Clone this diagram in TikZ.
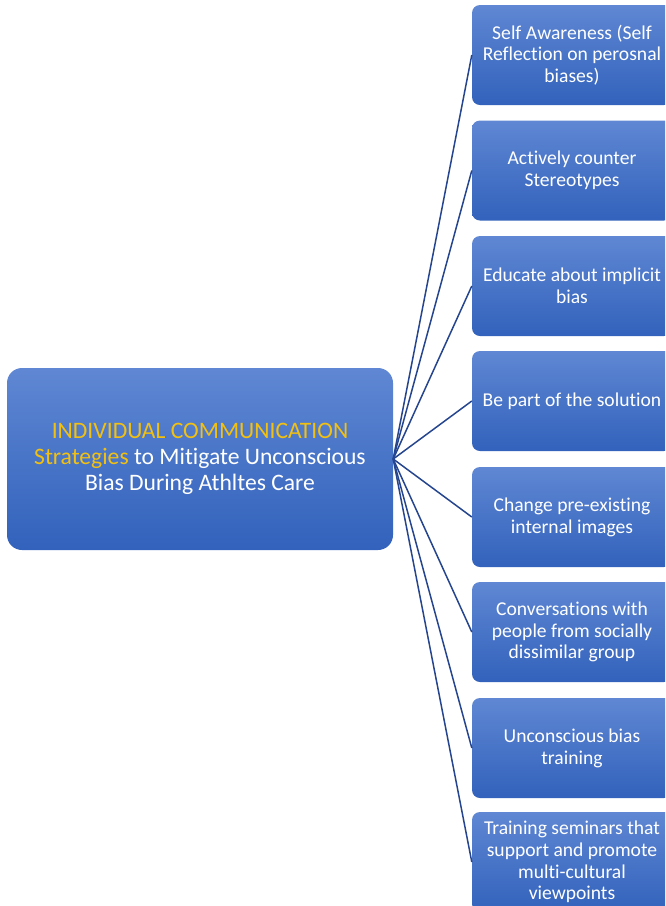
\documentclass[tikz,border=0pt]{standalone}
\usepackage{fontspec}
\setmainfont{Carlito}[Ligatures=NoCommon]
\definecolor{boxtop}{HTML}{5F87D3}
\definecolor{boxbot}{HTML}{3262BC}
\definecolor{linkblue}{HTML}{26458F}
\definecolor{gold}{HTML}{F2C010}

\begin{document}
\begin{tikzpicture}
	[x=1pt, y=-1pt,
	root/.style = {rounded corners=15pt, top color=boxtop, bottom color=boxbot, minimum width=386pt, minimum height=182pt, text=white, align=center, font=\fontsize{23.6}{26}\selectfont},
	leaf/.style = {rounded corners=8pt, top color=boxtop, bottom color=boxbot, minimum width=200pt, minimum height=100pt, text=white, align=center, font=\fontsize{19.6}{21.8}\selectfont},
	link/.style = {draw=linkblue, line width=1.5pt}]
	\useasboundingbox (0,0) rectangle (665,906);
	\clip (0,0) rectangle (665,906);
	\node[root] (r) at (200,459) {\textcolor{gold}{INDIVIDUAL COMMUNICATION}\\\textcolor{gold}{Strategies} to Mitigate Unconscious\\Bias During Athltes Care};

	\node[leaf] (1) at (572,55) {Self Awareness (Self\\Reflection on perosnal\\biases)};
	\node[leaf] (2) at (572,170.5) {Actively counter\\Stereotypes};
	\node[leaf] (3) at (572,286) {Educate about implicit\\bias};
	\node[leaf] (4) at (572,401) {Be part of the solution};
	\node[leaf] (5) at (572,517) {Change pre-existing\\internal images};
	\node[leaf] (6) at (572,632) {Conversations with\\people from socially\\dissimilar group};
	\node[leaf] (7) at (572,748) {Unconscious bias\\training};
	\node[leaf] (8) at (572,862) {Training seminars that\\support and promote\\multi-cultural\\viewpoints};

	\foreach \i in {1,...,8}
		\draw[link] (r.east) -- (\i.west);

\end{tikzpicture}
\end{document}
